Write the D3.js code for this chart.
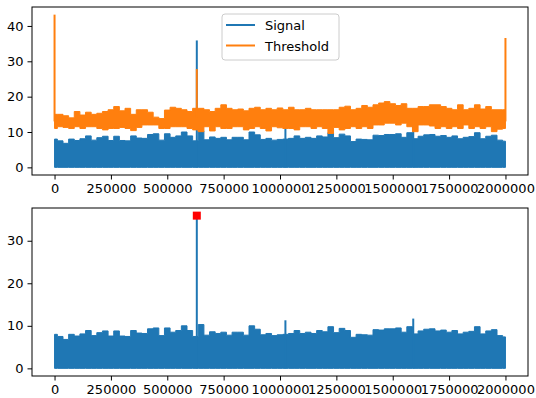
<!DOCTYPE html>
<html>
<head>
<meta charset="utf-8">
<script src="https://d3js.org/d3.v7.min.js"></script>
<style>
    html, body { margin: 0; padding: 0; background: #fff; }
    svg text { font-family: "DejaVu Sans", sans-serif; font-size: 13px; fill: #000; }
</style>
</head>
<body>
<div id="chart"></div>
<script>
// envelope of the dense signal, one value per 25000 samples
var sampleStep = 25000;
var signalPeak = [8.0, 7.5, 6.8, 8.0, 7.6, 8.1, 8.9, 7.7, 8.4, 8.8,
                  7.6, 8.8, 7.6, 7.5, 8.9, 8.3, 8.2, 9.3, 9.5, 7.7,
                  9.5, 8.5, 8.9, 10.0, 8.9, 7.5, 10.3, 7.8, 8.6, 8.2,
                  8.5, 7.8, 8.5, 8.5, 7.8, 10.0, 9.2, 7.9, 8.2, 7.7,
                  7.9, 8.0, 8.2, 8.9, 8.2, 8.5, 8.2, 8.9, 8.6, 9.8,
                  8.4, 9.4, 8.9, 7.3, 8.0, 7.9, 7.8, 9.1, 9.0, 9.3,
                  9.3, 9.5, 8.5, 9.8, 8.1, 8.8, 9.2, 9.3, 8.8, 9.0,
                  8.5, 8.9, 8.1, 8.5, 8.7, 9.8, 8.1, 8.8, 9.1, 7.7, 7.4];
var thresholdHigh = [15.0, 15.0, 14.6, 14.0, 15.8, 14.8, 15.6, 15.0, 15.3, 15.8,
                     16.3, 17.2, 16.0, 16.7, 15.0, 16.3, 16.3, 15.6, 14.2, 13.8,
                     16.2, 17.0, 16.7, 16.3, 15.8, 16.7, 16.7, 16.3, 15.8, 16.7,
                     17.7, 16.7, 16.3, 16.5, 16.0, 16.7, 17.0, 16.3, 16.7, 16.3,
                     16.8, 16.3, 17.0, 16.3, 16.3, 16.7, 16.3, 16.3, 16.3, 16.3,
                     16.3, 17.0, 17.3, 16.3, 16.7, 17.5, 17.0, 17.7, 18.2, 18.6,
                     18.0, 17.5, 18.0, 16.7, 16.7, 17.2, 17.2, 17.7, 17.7, 17.2,
                     16.7, 16.3, 17.7, 16.3, 16.7, 17.7, 16.5, 17.2, 16.3, 16.3, 16.3];
var thresholdLow = [11.0, 11.5, 11.3, 11.0, 11.5, 11.0, 11.5, 11.5, 11.0, 10.6,
                    11.0, 11.0, 11.3, 11.0, 10.4, 11.3, 12.0, 12.0, 12.0, 11.0,
                    11.0, 11.5, 11.5, 11.5, 11.0, 10.6, 10.1, 11.5, 10.3, 11.5,
                    11.0, 11.0, 11.5, 11.5, 10.6, 11.0, 11.5, 11.0, 10.3, 11.5,
                    11.2, 11.0, 11.0, 10.6, 11.5, 11.5, 11.0, 11.5, 11.0, 9.6,
                    11.3, 10.6, 11.0, 11.5, 11.0, 11.5, 11.0, 12.0, 12.0, 12.5,
                    12.5, 12.0, 12.5, 11.5, 10.1, 12.0, 12.0, 11.7, 11.0, 11.5,
                    11.0, 11.5, 11.0, 12.0, 11.0, 11.5, 11.0, 11.5, 10.1, 10.8, 11.0];

// isolated excursions
var signalSpikes = [{x: 631000, y: 35.9}, {x: 1024000, y: 11.3}, {x: 1591000, y: 11.7}];
var thresholdSpikes = [{x: 0, lo: 13, hi: 43.2}, {x: 631000, lo: 14, hi: 27.8}, {x: 2000000, lo: 13, hi: 36.6}];
var peakMarker = {x: 631000, y: 35.9};

var xTicks = [0, 250000, 500000, 750000, 1000000, 1250000, 1500000, 1750000, 2000000];
var topYTicks = [0, 10, 20, 30, 40];
var bottomYTicks = [0, 10, 20, 30];
var legendLabels = ["Signal", "Threshold"];

var blue = "#1f77b4", orange = "#ff7f0e";
var W = 536, H = 398;
var left = 32, right = 528;
var topPanel = {y0: 7, y1: 175}, bottomPanel = {y0: 208, y1: 376};

var svg = d3.select("#chart").append("svg")
    .attr("width", W).attr("height", H);

// matplotlib style 5% margins
function padded(lo, hi) {
    var m = (hi - lo) * 0.05;
    return [lo - m, hi + m];
}

var x = d3.scaleLinear().domain(padded(0, 2000000)).range([left, right]);

var signalPts = signalPeak.map(function(v, i) { return {x: i * sampleStep, y: v}; });
var thresholdPts = thresholdHigh.map(function(v, i) { return {x: i * sampleStep, hi: v, lo: thresholdLow[i]}; });

function drawAxes(g, y, panel, yTicks) {
    g.append("g")
        .attr("transform", "translate(0," + panel.y1 + ")")
        .call(d3.axisBottom(x).tickValues(xTicks).tickFormat(d3.format("d")).tickSize(4.5).tickPadding(4))
        .call(function(a) { a.select(".domain").remove(); a.selectAll("text").style("font-size", "13px").style("font-family", "DejaVu Sans"); });
    g.append("g")
        .attr("transform", "translate(" + left + ",0)")
        .call(d3.axisLeft(y).tickValues(yTicks).tickSize(4.5).tickPadding(4))
        .call(function(a) { a.select(".domain").remove(); a.selectAll("text").style("font-size", "13px").style("font-family", "DejaVu Sans"); });
    g.append("rect")
        .attr("x", left).attr("y", panel.y0)
        .attr("width", right - left).attr("height", panel.y1 - panel.y0)
        .attr("fill", "none").attr("stroke", "#000").attr("stroke-width", 1);
}

function drawSignal(g, y) {
    g.append("path")
        .datum(signalPts)
        .attr("d", d3.area().curve(d3.curveStep)
            .x(function(d) { return x(d.x); })
            .y0(y(0)).y1(function(d) { return y(d.y); }))
        .attr("fill", blue).attr("stroke", blue).attr("stroke-width", 1);
    g.selectAll(".sig-spike")
        .data(signalSpikes).enter().append("line")
        .attr("x1", function(d) { return x(d.x); }).attr("x2", function(d) { return x(d.x); })
        .attr("y1", y(0)).attr("y2", function(d) { return y(d.y); })
        .attr("stroke", blue).attr("stroke-width", 2);
}

// top panel
var yTop = d3.scaleLinear().domain(padded(0, 43.2)).range([topPanel.y1, topPanel.y0]);
var gTop = svg.append("g");
drawSignal(gTop, yTop);
gTop.append("path")
    .datum(thresholdPts)
    .attr("d", d3.area().curve(d3.curveStep)
        .x(function(d) { return x(d.x); })
        .y0(function(d) { return yTop(d.lo); }).y1(function(d) { return yTop(d.hi); }))
    .attr("fill", orange).attr("stroke", orange).attr("stroke-width", 1);
gTop.selectAll(".thr-spike")
    .data(thresholdSpikes).enter().append("line")
    .attr("x1", function(d) { return x(d.x); }).attr("x2", function(d) { return x(d.x); })
    .attr("y1", function(d) { return yTop(d.lo); }).attr("y2", function(d) { return yTop(d.hi); })
    .attr("stroke", orange).attr("stroke-width", 2);
drawAxes(gTop, yTop, topPanel, topYTicks);

// legend
var lg = svg.append("g");
lg.append("rect")
    .attr("x", 222).attr("y", 14).attr("width", 117).attr("height", 46).attr("rx", 3)
    .attr("fill", "#fff").attr("fill-opacity", 0.8)
    .attr("stroke", "#ccc").attr("stroke-width", 1);
legendLabels.forEach(function(lab, i) {
    var cy = 25 + i * 20.5;
    lg.append("line").attr("x1", 226).attr("x2", 255).attr("y1", cy).attr("y2", cy)
        .attr("stroke", i === 0 ? blue : orange).attr("stroke-width", 2);
    lg.append("text").attr("x", 265).attr("y", cy + 5).text(lab);
});

// bottom panel
var yBot = d3.scaleLinear().domain(padded(0, 35.9)).range([bottomPanel.y1, bottomPanel.y0]);
var gBot = svg.append("g");
drawSignal(gBot, yBot);
gBot.append("rect")
    .attr("x", x(peakMarker.x) - 4).attr("y", yBot(peakMarker.y) - 4)
    .attr("width", 8).attr("height", 8)
    .attr("fill", "#ff0000");
drawAxes(gBot, yBot, bottomPanel, bottomYTicks);
</script>
</body>
</html>
